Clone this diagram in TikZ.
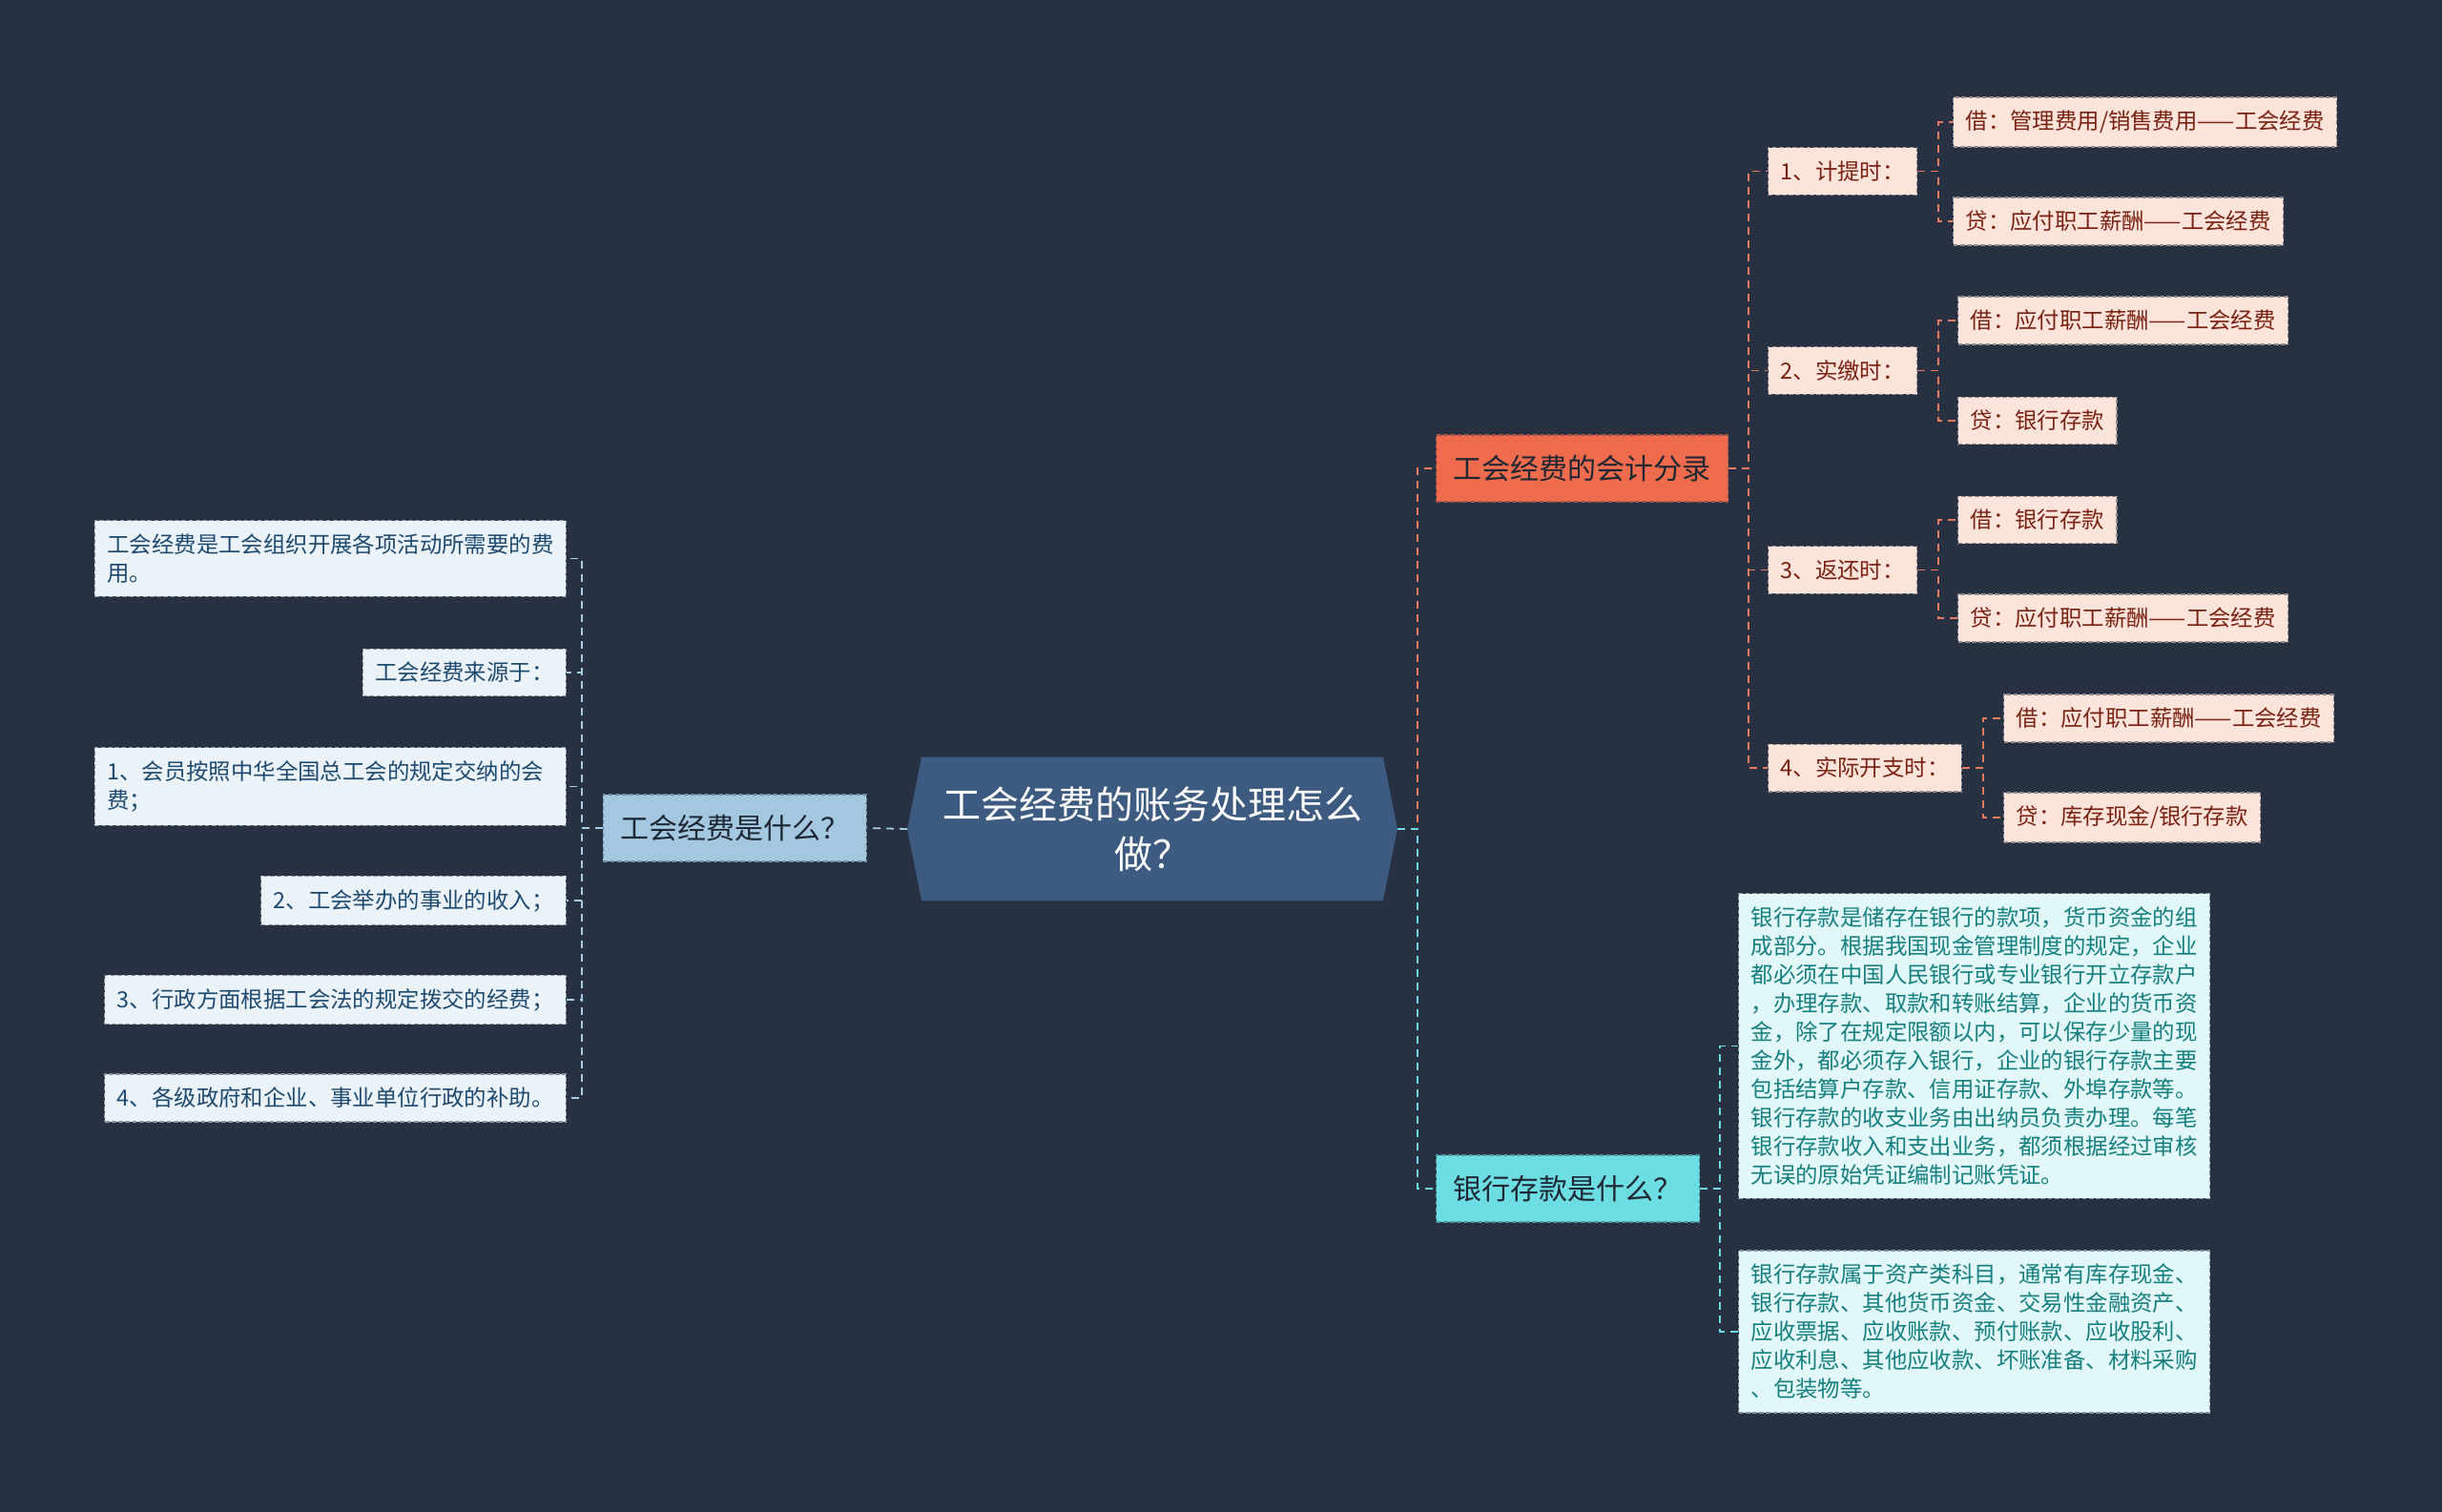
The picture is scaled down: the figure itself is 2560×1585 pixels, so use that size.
\documentclass[tikz,border=0pt]{standalone}
\usepackage{fontspec}
\setmainfont{Noto Sans CJK SC}
\usepackage{tikz}
\usetikzlibrary{calc, positioning, backgrounds}
\definecolor{canvas}{HTML}{283142}
\definecolor{hubblue}{HTML}{3D5B80}
\definecolor{sky}{HTML}{A3C8E0}
\definecolor{skyline}{HTML}{A9CBE2}
\definecolor{skyleaf}{HTML}{EBF3F9}
\definecolor{skytext}{HTML}{1E4A70}
\definecolor{coral}{HTML}{EE6C4D}
\definecolor{coralline}{HTML}{E77A60}
\definecolor{coralleaf}{HTML}{FDE4DB}
\definecolor{coraltext}{HTML}{7A2212}
\definecolor{aqua}{HTML}{6CDDE3}
\definecolor{aqualine}{HTML}{6CD9E0}
\definecolor{aqualeaf}{HTML}{E1F7F8}
\definecolor{aquatext}{HTML}{167F80}
\definecolor{ink}{HTML}{1F2733}

\begin{document}
\begin{tikzpicture}[x=0.5pt, y=-0.5pt,
    leaf/.style 2 args={draw=#1!50!canvas, fill=#1, text=#2, dash pattern=on 2.4pt off 1.2pt,
      line width=0.6pt, inner xsep=6.5pt, inner ysep=7pt, align=left,
      font=\fontsize{11.7pt}{15pt}\selectfont},
    topic/.style={draw=#1!60!canvas, fill=#1, text=ink, dash pattern=on 2.4pt off 1.2pt,
      line width=0.6pt, inner xsep=9pt, minimum height=35pt,
      font=\fontsize{15pt}{18pt}\selectfont},
    link/.style={draw=#1, dash pattern=on 4pt off 3pt, line width=0.9pt}]
    \node[text=white, align=center, minimum width=256.5pt, minimum height=75pt, inner sep=0pt,
          font=\fontsize{20pt}{26pt}\selectfont] (hub) at (1208,869)
      {工会经费的账务处理怎么\\做？};
    \node[topic=sky, anchor=east] (what) at (909,868) {工会经费是什么？};
    \node[topic=coral, anchor=west] (acc) at (1505,491) {工会经费的会计分录};
    \node[topic=aqua, anchor=west] (bank) at (1505,1246) {银行存款是什么？};

    \node[leaf={skyleaf}{skytext}, anchor=east, text width=234pt] (l1) at (594,585.5)
      {工会经费是工会组织开展各项活动所需要的费\\用。};
    \node[leaf={skyleaf}{skytext}, anchor=east] (l2) at (594,705) {工会经费来源于：};
    \node[leaf={skyleaf}{skytext}, anchor=east, text width=234pt] (l3) at (594,824.5)
      {1、会员按照中华全国总工会的规定交纳的会\\费；};
    \node[leaf={skyleaf}{skytext}, anchor=east] (l4) at (594,944) {2、工会举办的事业的收入；};
    \node[leaf={skyleaf}{skytext}, anchor=east] (l5) at (594,1048) {3、行政方面根据工会法的规定拨交的经费；};
    \node[leaf={skyleaf}{skytext}, anchor=east] (l6) at (594,1151) {4、各级政府和企业、事业单位行政的补助。};

    \node[leaf={coralleaf}{coraltext}, anchor=west] (a1) at (1853,179.5) {1、计提时：};
    \node[leaf={coralleaf}{coraltext}, anchor=west] (a2) at (1853,388.5) {2、实缴时：};
    \node[leaf={coralleaf}{coraltext}, anchor=west] (a3) at (1853,597.5) {3、返还时：};
    \node[leaf={coralleaf}{coraltext}, anchor=west] (a4) at (1853,805) {4、实际开支时：};
    \node[leaf={coralleaf}{coraltext}, anchor=west] (a11) at (2047,128) {借：管理费用/销售费用——工会经费};
    \node[leaf={coralleaf}{coraltext}, anchor=west] (a12) at (2047,232) {贷：应付职工薪酬——工会经费};
    \node[leaf={coralleaf}{coraltext}, anchor=west] (a21) at (2052,336) {借：应付职工薪酬——工会经费};
    \node[leaf={coralleaf}{coraltext}, anchor=west] (a22) at (2052,441) {贷：银行存款};
    \node[leaf={coralleaf}{coraltext}, anchor=west] (a31) at (2052,545) {借：银行存款};
    \node[leaf={coralleaf}{coraltext}, anchor=west] (a32) at (2052,648) {贷：应付职工薪酬——工会经费};
    \node[leaf={coralleaf}{coraltext}, anchor=west] (a41) at (2100,753) {借：应付职工薪酬——工会经费};
    \node[leaf={coralleaf}{coraltext}, anchor=west] (a42) at (2100,857) {贷：库存现金/银行存款};

    \node[leaf={aqualeaf}{aquatext}, anchor=west] (b1) at (1822,1096.5)
      {银行存款是储存在银行的款项，货币资金的组\\成部分。根据我国现金管理制度的规定，企业\\都必须在中国人民银行或专业银行开立存款户\\，办理存款、取款和转账结算，企业的货币资\\金，除了在规定限额以内，可以保存少量的现\\金外，都必须存入银行，企业的银行存款主要\\包括结算户存款、信用证存款、外埠存款等。\\银行存款的收支业务由出纳员负责办理。每笔\\银行存款收入和支出业务，都须根据经过审核\\无误的原始凭证编制记账凭证。};
    \node[leaf={aqualeaf}{aquatext}, anchor=west] (b2) at (1822,1396)
      {银行存款属于资产类科目，通常有库存现金、\\银行存款、其他货币资金、交易性金融资产、\\应收票据、应收账款、预付账款、应收股利、\\应收利息、其他应收款、坏账准备、材料采购\\、包装物等。};

    \draw[link=skyline] (hub.west) -- (what.east);
    \foreach \n in {l1,l2,l3,l4,l5,l6}
      \draw[link=skyline] (what.west) -- ++(-11pt,0) |- (\n.east);
    \draw[link=coralline] (hub.east) -- ++(10.5pt,0) |- (acc.west);
    \foreach \n in {a1,a2,a3,a4}
      \draw[link=coralline] (acc.east) -- ++(10.5pt,0) |- (\n.west);
    \foreach \p/\n in {a1/a11,a1/a12,a2/a21,a2/a22,a3/a31,a3/a32,a4/a41,a4/a42}
      \draw[link=coralline] (\p.east) -- ++(11pt,0) |- (\n.west);
    \draw[link=aqualine] (hub.east) -- ++(10.5pt,0) |- (bank.west);
    \foreach \n in {b1,b2}
      \draw[link=aqualine] (bank.east) -- ++(10.5pt,0) |- (\n.west);

    \begin{scope}[on background layer]
      \fill[canvas] (0,0) rectangle (2560,1585);
      \fill[hubblue] (hub.west) -- ([xshift=7.5pt]hub.north west) -- ([xshift=-7.5pt]hub.north east)
        -- (hub.east) -- ([xshift=-7.5pt]hub.south east) -- ([xshift=7.5pt]hub.south west) -- cycle;
    \end{scope}
  \end{tikzpicture}
\end{document}
